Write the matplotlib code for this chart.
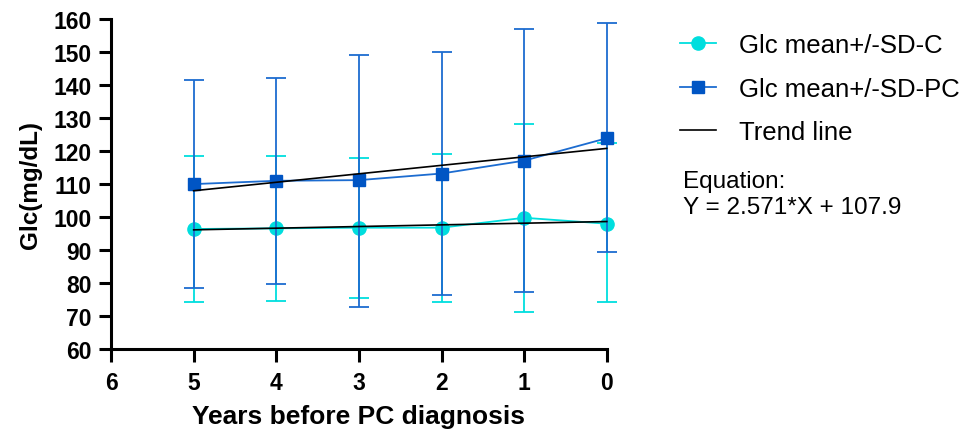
import numpy as np
import matplotlib.pyplot as plt
from matplotlib.lines import Line2D

plt.rcParams['font.family'] = ['Liberation Sans', 'DejaVu Sans']

years = [5, 4, 3, 2, 1, 0]

C_mean = [96.4, 96.6, 96.8, 96.8, 99.8, 98.0]
C_upper = [118.4, 118.4, 117.9, 119.1, 128.1, 122.5]
C_lower = [74.3, 74.6, 75.5, 74.4, 71.4, 74.2]

PC_mean = [110.0, 111.0, 111.2, 113.2, 117.1, 123.9]
PC_upper = [141.6, 142.2, 149.2, 149.9, 156.9, 158.7]
PC_lower = [78.4, 79.8, 72.8, 76.3, 77.2, 89.3]

equation = "Equation:\nY = 2.571*X + 107.9"

cyan = '#00DEDE'
blue = '#1C6CD0'
blue_mk = '#0055C4'

fig = plt.figure(figsize=(9.74, 4.35), dpi=100)
ax = fig.add_axes([0.114, 0.195, 0.509, 0.759])

x = np.array(years)
cm = np.array(C_mean)
pm = np.array(PC_mean)

for art in [
    ax.errorbar(x, cm, yerr=[cm - np.array(C_lower), np.array(C_upper) - cm],
                color=cyan, ecolor=cyan, elinewidth=1.3, capsize=7, capthick=1.3,
                marker='o', markersize=9.5, lw=1.3, zorder=3),
    ax.errorbar(x, pm, yerr=[pm - np.array(PC_lower), np.array(PC_upper) - pm],
                color=blue, ecolor=blue, elinewidth=1.3, capsize=7, capthick=1.3,
                marker='s', markersize=9, mfc=blue_mk, mec=blue_mk, lw=1.3,
                zorder=4),
]:
    for a in art.get_children():
        a.set_clip_on(False)

# linear trend lines
xs = np.array([5, 0])
for m in (cm, pm):
    k, b = np.polyfit(x, m, 1)
    ax.plot(xs, k * xs + b, color='black', lw=1.2, zorder=5, clip_on=False)

ax.set_xlim(6, 0)
ax.set_ylim(60, 160)
ax.set_xticks([6, 5, 4, 3, 2, 1, 0])
ax.set_yticks(np.arange(60, 161, 10))
for s in ['top', 'right']:
    ax.spines[s].set_visible(False)
for s in ['left', 'bottom']:
    ax.spines[s].set_linewidth(2.2)
ax.tick_params(width=2.2, length=9, labelsize=16.5)
ax.tick_params(axis='x', pad=7)
ax.tick_params(axis='y', pad=5)
for lbl in ax.get_xticklabels() + ax.get_yticklabels():
    lbl.set_fontweight('bold')
ax.set_xlabel('Years before PC diagnosis', fontsize=19, fontweight='bold', labelpad=7)
ax.set_ylabel('Glc(mg/dL)', fontsize=17.5, fontweight='bold', labelpad=8)

handles = [
    Line2D([], [], color=cyan, marker='o', markersize=9.5, lw=1.3),
    Line2D([], [], color=blue, marker='s', markersize=9, mfc=blue_mk, mec=blue_mk, lw=1.3),
    Line2D([], [], color='black', lw=1.2),
]
labels = ['Glc mean+/-SD-C', 'Glc mean+/-SD-PC', 'Trend line']
fig.legend(handles, labels, loc='upper left', bbox_to_anchor=(0.680, 0.963), frameon=False,
           fontsize=18.5, handlelength=1.4, labelspacing=0.76, handletextpad=0.9,
           borderpad=0.2)
fig.text(0.701, 0.497, equation, fontsize=17.5, va='bottom', ha='left', linespacing=1.25)

fig.savefig('out.png', dpi=100)
